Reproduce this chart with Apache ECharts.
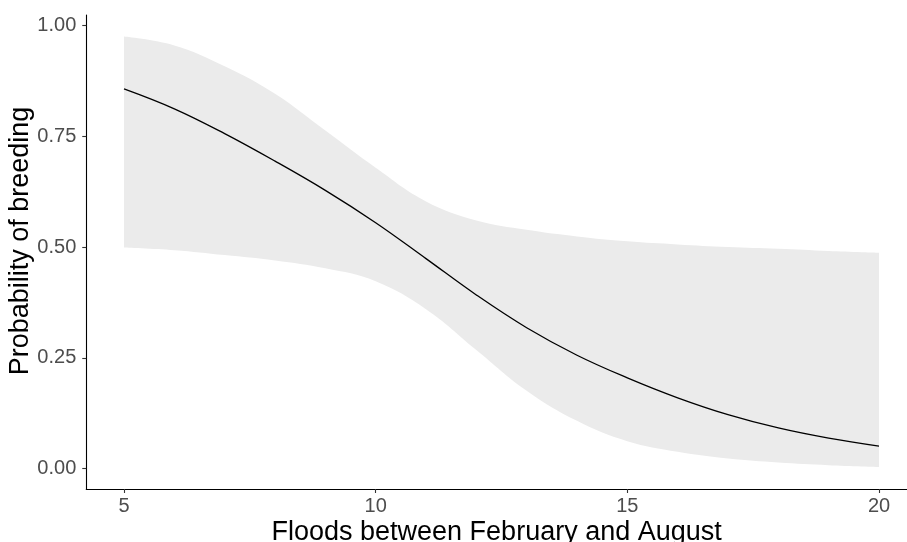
<!DOCTYPE html>
<html>
<head>
<meta charset="utf-8">
<script src="https://cdn.jsdelivr.net/npm/echarts@6/dist/echarts.min.js"></script>
<style>
  html, body { margin: 0; padding: 0; background: #ffffff; }
  #chart { width: 907px; height: 542px; }
</style>
</head>
<body>
<div id="chart"></div>
<script>
// Data
const floods = [5, 6, 7, 8, 9, 10, 11, 12, 13, 14, 15, 16, 17, 18, 19, 20];
const fitProb = [0.857, 0.812, 0.756, 0.694, 0.628, 0.555, 0.474, 0.392, 0.318, 0.256, 0.205, 0.160, 0.122, 0.092, 0.069, 0.051];
const upperCI = [0.975, 0.955, 0.908, 0.846, 0.763, 0.679, 0.603, 0.560, 0.539, 0.524, 0.513, 0.506, 0.500, 0.496, 0.491, 0.487];
const lowerCI = [0.499, 0.493, 0.482, 0.470, 0.452, 0.423, 0.360, 0.268, 0.176, 0.108, 0.062, 0.038, 0.023, 0.014, 0.008, 0.004];
const xTicks = [5, 10, 15, 20];
const yTicks = [0, 0.25, 0.5, 0.75, 1.0];

const upperData = floods.map((x, i) => [x, upperCI[i]]);
const lowerData = floods.map((x, i) => [x, lowerCI[i]]);
const fitData = floods.map((x, i) => [x, fitProb[i]]);

const chart = echarts.init(document.getElementById('chart'), null, { renderer: 'canvas' });
const FONT = '"Liberation Sans", Arial, sans-serif';
const SMOOTH = 0.4;

chart.setOption({
  backgroundColor: '#ffffff',
  animation: false,
  grid: { left: 86.25, right: 0, top: 15, bottom: 53, containLabel: false, outerBoundsMode: 'none' },
  xAxis: {
    type: 'value',
    min: 4.25,
    max: 20.5562,
    z: 10,
    name: 'Floods between February and August',
    nameLocation: 'middle',
    nameGap: 30,
    nameMoveOverlap: false,
    nameTextStyle: { fontFamily: FONT, fontSize: 27, color: '#000000' },
    axisLine: { show: true, onZero: false, lineStyle: { color: '#000000', width: 1.1 } },
    axisTick: { show: true, length: 4, customValues: xTicks, lineStyle: { color: '#333333', width: 1.1 } },
    axisLabel: { customValues: xTicks, margin: 7, fontFamily: FONT, fontSize: 20, color: '#4D4D4D', formatter: v => String(v) },
    splitLine: { show: false }
  },
  yAxis: {
    type: 'value',
    min: -0.0458,
    max: 1.0236,
    z: 10,
    name: 'Probability of breeding',
    nameLocation: 'middle',
    nameGap: 52,
    nameRotate: 90,
    nameMoveOverlap: false,
    nameTextStyle: { fontFamily: FONT, fontSize: 27, color: '#000000', padding: [0, 0, 0, 22] },
    axisLine: { show: true, onZero: false, lineStyle: { color: '#000000', width: 1.1 } },
    axisTick: { show: true, length: 4, customValues: yTicks, lineStyle: { color: '#333333', width: 1.1 } },
    axisLabel: { customValues: yTicks, margin: 10, fontFamily: FONT, fontSize: 20, color: '#4D4D4D', formatter: v => v.toFixed(2) },
    splitLine: { show: false }
  },
  series: [
    {
      type: 'line',
      data: upperData,
      smooth: SMOOTH,
      symbol: 'none',
      lineStyle: { width: 0, opacity: 0 },
      areaStyle: { color: '#EBEBEB', opacity: 1, origin: 'start' },
      silent: true,
      z: 1
    },
    {
      type: 'line',
      data: lowerData,
      smooth: SMOOTH,
      symbol: 'none',
      lineStyle: { width: 0, opacity: 0 },
      areaStyle: { color: '#ffffff', opacity: 1, origin: 'start' },
      silent: true,
      z: 2
    },
    {
      type: 'line',
      data: fitData,
      smooth: SMOOTH,
      symbol: 'none',
      lineStyle: { color: '#000000', width: 1.3 },
      z: 3
    }
  ]
});
</script>
</body>
</html>
